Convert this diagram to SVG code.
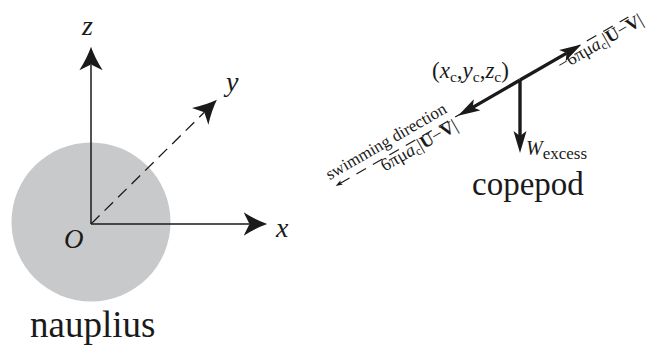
<svg xmlns="http://www.w3.org/2000/svg" width="657" height="347" viewBox="0 0 657 347">
<style>
text{font-family:"Liberation Serif","Times New Roman",serif;fill:#1a1a1a}
.it{font-style:italic}
.b{font-weight:bold}
.ax{stroke:#1a1a1a;stroke-width:1.5;fill:none}
.axd{stroke:#1a1a1a;stroke-width:1.3;fill:none;stroke-dasharray:12 7}
.thick{stroke:#1a1a1a;stroke-width:3.4;fill:none}
.dash{stroke:#1a1a1a;stroke-width:1.2;fill:none;stroke-dasharray:11 8}
</style>
<defs>
<marker id="axhead" markerUnits="userSpaceOnUse" viewBox="0 -12 24 24" markerWidth="24" markerHeight="24" refX="5.8" refY="0" orient="auto"><path d="M23.5,0 Q12,-4 0,-11.7 L5.8,0 L0,11.7 Q12,4 23.5,0 Z" fill="#1a1a1a"/></marker>
<marker id="fhead" markerUnits="userSpaceOnUse" viewBox="0 -7 22 14" markerWidth="22" markerHeight="14" refX="5" refY="0" orient="auto"><path d="M22,0 L0,-6.5 L5,0 L0,6.5 Z" fill="#1a1a1a"/></marker>
</defs>
<g id="nauplius">
<circle cx="91" cy="222" r="79.5" fill="#c8c9cb"/>
<text x="30" y="337" font-size="37">nauplius</text>
</g>
<g id="axes">
<line class="ax" x1="91" y1="224" x2="91" y2="64.5" marker-end="url(#axhead)"/>
<line class="ax" x1="91" y1="224" x2="249.5" y2="224" marker-end="url(#axhead)"/>
<line class="axd" x1="91" y1="224" x2="204.3" y2="112.3" marker-end="url(#axhead)"/>
<text class="it" x="82" y="35" font-size="28">z</text>
<text class="it" x="276" y="237" font-size="28">x</text>
<text class="it" x="226" y="91" font-size="28">y</text>
<text class="it" x="64" y="248" font-size="27">O</text>
</g>
<g id="copepod">
<text x="432" y="77.5" font-size="23">(<tspan class="it">x</tspan><tspan font-size="15.5" dy="4">c</tspan><tspan dy="-4">,</tspan><tspan class="it">y</tspan><tspan font-size="15.5" dy="4">c</tspan><tspan dy="-4">,</tspan><tspan class="it">z</tspan><tspan font-size="15.5" dy="4">c</tspan><tspan dy="-4">)</tspan></text>
<text x="472" y="195" font-size="33">copepod</text>
</g>
<g id="connectors">
<line class="thick" x1="520" y1="80" x2="520" y2="136" marker-end="url(#fhead)"/>
<g transform="translate(338,184) rotate(-30)">
<line class="dash" x1="2" y1="0.5" x2="335" y2="0.5"/>
<path d="M-3,0.5 L4,-2 L2.5,0.5 L4,3 Z" fill="#1a1a1a"/>
<line class="thick" x1="209.6" y1="1" x2="263.5" y2="1" marker-end="url(#fhead)"/>
<line class="thick" x1="209.6" y1="1" x2="155" y2="1" marker-end="url(#fhead)"/>
</g>
</g>
<g id="labels">
<text x="526" y="155" font-size="20"><tspan class="it">W</tspan><tspan font-size="17" dy="3.5">excess</tspan></text>
<g transform="translate(338,184) rotate(-30)">
<text x="-5.4" y="-7.4" font-size="17">swimming direction</text>
<text x="46.6" y="12.8" font-size="18">6πμ<tspan class="it">a</tspan><tspan font-size="12" dy="3">c</tspan><tspan dy="-3">|</tspan><tspan class="b">U</tspan>−<tspan class="b">V</tspan>|</text>
<text x="250" y="14" font-size="18">−6πμ<tspan class="it">a</tspan><tspan font-size="12" dy="3">c</tspan><tspan dy="-3">|</tspan><tspan class="b">U</tspan>−<tspan class="b">V</tspan>|</text>
</g>
</g>
</svg>
